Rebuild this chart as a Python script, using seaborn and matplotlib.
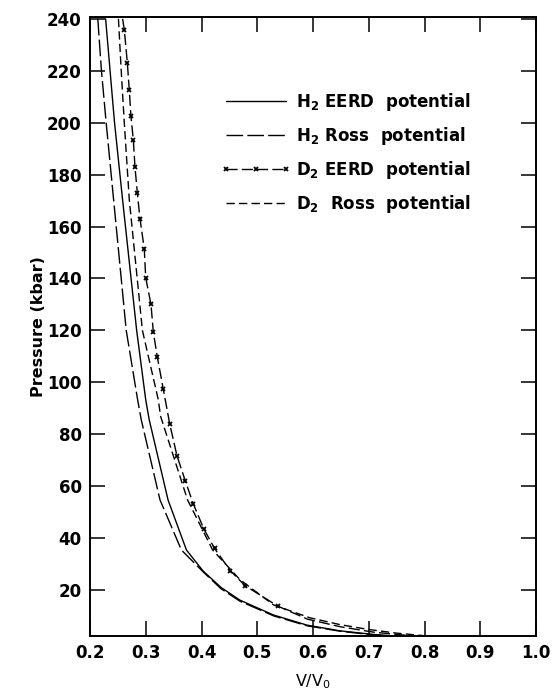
import matplotlib
matplotlib.use("Agg")
import matplotlib.pyplot as plt
import seaborn as sns

# ---- data ----
h2_eerd_v = [0.228, 0.236, 0.244, 0.2586, 0.2837, 0.300, 0.3063, 0.340, 0.373, 0.403, 0.435, 0.469, 0.529, 0.589, 0.648, 0.708, 0.78, 0.85, 0.92, 1.0]
h2_eerd_p = [240, 220, 200, 170, 120, 93.2, 85.5, 54.7, 35.4, 27.3, 21.0, 16.1, 10.4, 6.5, 4.3, 2.9, 1.8, 1.0, 0.5, 0.2]

h2_ross_v = [0.214, 0.2205, 0.229, 0.2425, 0.265, 0.2855, 0.292, 0.3256, 0.364, 0.403, 0.435, 0.469, 0.53, 0.59, 0.65, 0.71, 0.78, 0.85, 0.92, 1.0]
h2_ross_p = [240, 220, 200, 170, 120, 93.2, 85.5, 54.7, 35.4, 27.0, 20.5, 15.7, 10.0, 6.2, 4.1, 2.7, 1.7, 1.0, 0.5, 0.2]

d2_eerd_v = [0.2585, 0.2615, 0.267, 0.2705, 0.2735, 0.2777, 0.2807, 0.2849, 0.2897, 0.2974, 0.2999,
             0.3094, 0.3136, 0.3208, 0.3315, 0.343, 0.356, 0.371, 0.3853, 0.404, 0.4235, 0.4515,
             0.478, 0.537, 0.59, 0.648, 0.708, 0.78, 0.85, 0.92, 1.0]
d2_eerd_p = [240, 235.8, 223, 212.4, 202.4, 193.4, 182.9, 172.9, 163, 151.3, 140.3,
             130, 119.3, 109.7, 97.3, 84, 71.7, 62, 53.2, 43.6, 36, 27.5,
             21.7, 13.8, 8.8, 5.9, 3.8, 2.3, 1.3, 0.6, 0.2]
d2_eerd_marks = list(range(1, 24))   # points of the D2 EERD series drawn with x markers

d2_ross_v = [0.251, 0.256, 0.2615, 0.2705, 0.294, 0.3226, 0.3265, 0.375, 0.42, 0.469, 0.529, 0.5946, 0.648, 0.70, 0.75, 0.80, 0.87, 0.93, 1.0]
d2_ross_p = [240, 220, 200, 170.3, 120, 93.2, 87, 54.7, 35.4, 24, 14.3, 9.3, 6.7, 4.8, 3.4, 2.4, 1.4, 0.7, 0.3]

labels = ["H$_2$ EERD  potential", "H$_2$ Ross  potential",
          "D$_2$ EERD  potential", "D$_2$  Ross  potential"]
x_ticks = [0.2, 0.3, 0.4, 0.5, 0.6, 0.7, 0.8, 0.9, 1.0]
x_tick_labels = ["0.2", "0.3", "0.4", "0.5", "0.6", "0.7", "0.8", "0.9", "1.0"]
y_ticks = [20, 40, 60, 80, 100, 120, 140, 160, 180, 200, 220, 240]

sns.set_theme(style="ticks")
plt.rcParams["font.family"] = ["DejaVu Sans"]
plt.rcParams["mathtext.default"] = "regular"
plt.rcParams["text.color"] = "black"
plt.rcParams["axes.labelcolor"] = "black"

fig = plt.figure(figsize=(5.52, 6.94), dpi=100)
ax = fig.add_axes([90 / 552, 1 - 636 / 694, 446 / 552, 619 / 694])

lw = 1.0
mk = dict(marker="x", markersize=3.5, markeredgewidth=1.3,
          markeredgecolor="black", markerfacecolor="black")
sns.lineplot(x=h2_eerd_v, y=h2_eerd_p, ax=ax, color="black", lw=lw, sort=False,
             estimator=None, linestyle="-", label=labels[0])
sns.lineplot(x=h2_ross_v, y=h2_ross_p, ax=ax, color="black", lw=lw, sort=False,
             estimator=None, linestyle=(0, (12, 3)), label=labels[1])
sns.lineplot(x=d2_eerd_v, y=d2_eerd_p, ax=ax, color="black", lw=lw, sort=False,
             estimator=None, linestyle=(0, (8, 3)), markevery=d2_eerd_marks,
             label=labels[2], **mk)
sns.lineplot(x=d2_ross_v, y=d2_ross_p, ax=ax, color="black", lw=lw, sort=False,
             estimator=None, linestyle=(0, (6, 3)), label=labels[3])

ax.set_xlim(0.2, 1.0)
ax.set_ylim(2.3, 240.7)
ax.set_xticks(x_ticks)
ax.set_xticklabels(x_tick_labels)
ax.set_yticks(y_ticks)

for s in ax.spines.values():
    s.set_linewidth(1.4)
    s.set_color("black")
ax.tick_params(direction="in", length=11, width=1.1, top=True, right=True,
               labelsize=12, pad=6, colors="black")
for t in ax.get_xticklabels() + ax.get_yticklabels():
    t.set_fontweight("bold")

ax.set_xlabel("V/V$_0$", fontsize=11.5, labelpad=7, color="black")
ax.set_ylabel("Pressure (kbar)", fontsize=11.5, fontweight="bold", labelpad=1,
              color="black")

leg = ax.legend(loc="upper left", bbox_to_anchor=(0.26, 0.905), frameon=False,
                handlelength=4.2, numpoints=3, labelspacing=0.72, fontsize=12,
                handletextpad=0.3)
for t in leg.get_texts():
    t.set_fontweight("bold")
    t.set_color("black")

fig.savefig("out.png", dpi=100)
